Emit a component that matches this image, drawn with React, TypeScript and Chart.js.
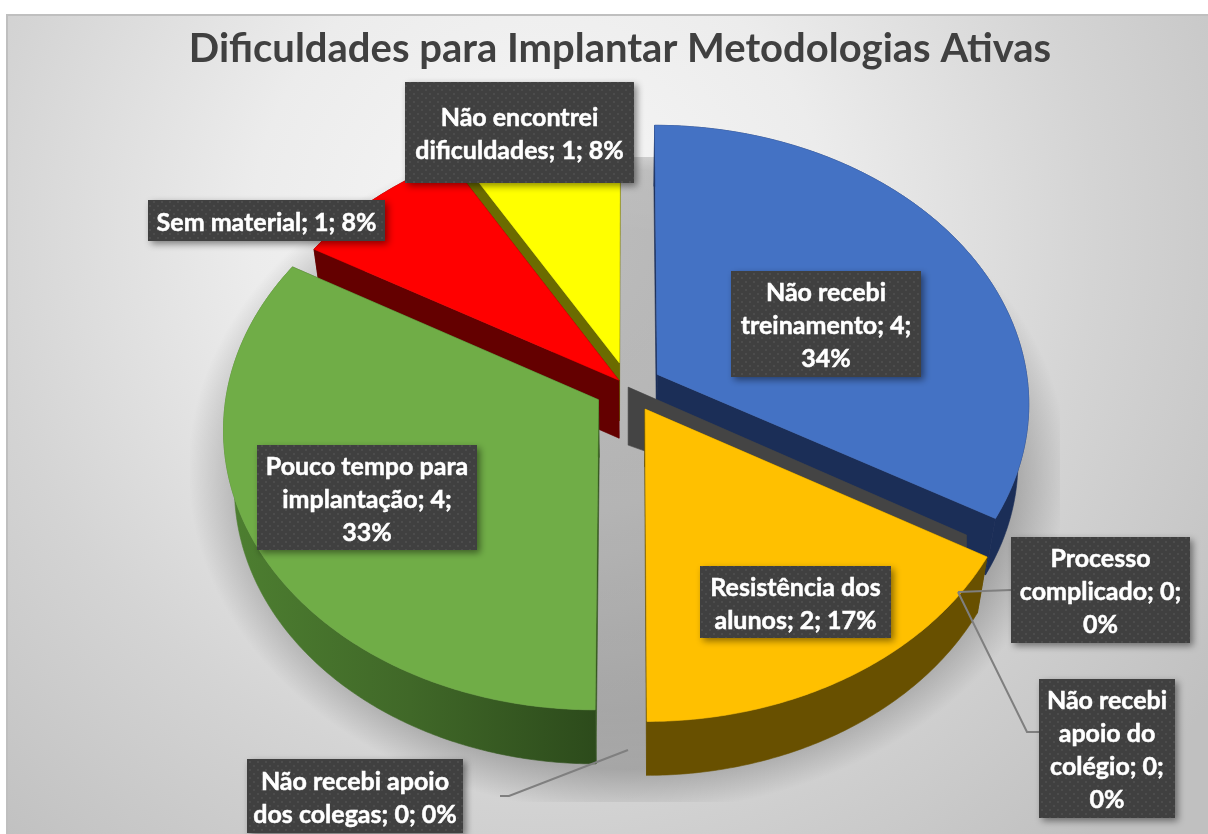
import React, { useEffect, useRef } from "react";
import { Chart, registerables } from "chart.js";

Chart.register(...registerables);

const titleText = "Dificuldades para Implantar Metodologias Ativas";
const categories = [
  "Não recebi treinamento",
  "Resistência dos alunos",
  "Processo complicado",
  "Não recebi apoio do colégio",
  "Pouco tempo para implantação",
  "Sem material",
  "Não encontrei dificuldades",
];
const counts = [4, 2, 0, 0, 4, 1, 1];
const topColors = ["#4472C4", "#FFC000", "#A5A5A5", "#5B9BD5", "#70AD47", "#FF0000", "#FFFF00"];
const wallColors = ["#1B2E57", "#685000", "#444444", "#25405C", "#34561F", "#640000", "#6B6B00"];
const explode = [34, 34, 0, 0, 34, 13, 34];
const labelLines = [
  ["Não recebi", "treinamento; 4;", "34%"],
  ["Resistência dos", "alunos; 2; 17%"],
  ["Processo", "complicado; 0;", "0%"],
  ["Não recebi", "apoio do", "colégio; 0;", "0%"],
  ["Pouco tempo para", "implantação; 4;", "33%"],
  ["Sem material; 1; 8%"],
  ["Não encontrei", "dificuldades; 1; 8%"],
];
// label boxes: x0, y0, x1, y1
const labelBoxes = [
  [731, 271, 921, 377],
  [700, 566, 891, 638],
  [1011, 537, 1190, 643],
  [1039, 679, 1175, 818],
  [257, 445, 477, 550],
  [148, 200, 385, 241],
  [405, 82, 634, 183],
];
const leaders = [
  [[1011, 590], [958, 592]],
  [[1039, 732], [1027, 732], [958, 592]],
  [[500, 796], [509, 796], [628, 750]],
];
const leaderLabel = ["Não recebi apoio", "dos colegas; 0; 0%"];
const leaderBox = [247, 759, 463, 833];

const PIE_RADIUS = 371;
const SQUASH = 0.745;
const PERSPECTIVE = 0.1;
const DX = 8;
const DY = 0;

type Pt = [number, number];

function project(el: any, u: number, v: number): Pt {
  const f = 1 / (1 - (PERSPECTIVE * v) / el.outerRadius);
  return [el.x + DX + u * f, el.y + DY + SQUASH * v * f];
}
function apexFlat(el: any): Pt {
  const mid = (el.startAngle + el.endAngle) / 2;
  return [Math.cos(mid) * el.options.offset, Math.sin(mid) * el.options.offset];
}
function rimPoint(el: any, a: number): Pt {
  const [ou, ov] = apexFlat(el);
  return project(el, ou + Math.cos(a) * el.outerRadius, ov + Math.sin(a) * el.outerRadius);
}
function toBottom(el: any, p: Pt): Pt {
  const cx = el.x + DX;
  return [cx + (p[0] - cx) * 0.973, p[1] + 58 - 0.012 * (p[1] - 382)];
}
function poly(ctx: CanvasRenderingContext2D, pts: Pt[], fill: any) {
  ctx.beginPath();
  pts.forEach((p, i) => (i ? ctx.lineTo(p[0], p[1]) : ctx.moveTo(p[0], p[1])));
  ctx.closePath();
  ctx.fillStyle = fill;
  ctx.fill();
  ctx.strokeStyle = fill;
  ctx.lineWidth = 0.6;
  ctx.stroke();
}
function rim(el: any): Pt[] {
  const pts: Pt[] = [];
  const n = Math.max(2, Math.ceil((el.endAngle - el.startAngle) / 0.01));
  for (let i = 0; i <= n; i++) pts.push(rimPoint(el, el.startAngle + ((el.endAngle - el.startAngle) * i) / n));
  return pts;
}

function makePattern(ctx: CanvasRenderingContext2D) {
  const c = document.createElement("canvas");
  c.width = 8;
  c.height = 8;
  const p = c.getContext("2d")!;
  p.fillStyle = "#404040";
  p.fillRect(0, 0, 8, 8);
  p.fillStyle = "#4c4c4c";
  p.fillRect(1, 1, 2, 2);
  p.fillRect(5, 5, 2, 2);
  return ctx.createPattern(c, "repeat")!;
}

function drawBox(ctx: CanvasRenderingContext2D, box: number[], lines: string[], pattern: CanvasPattern) {
  const [x0, y0, x1, y1] = box;
  ctx.save();
  ctx.shadowColor = "rgba(0,0,0,0.45)";
  ctx.shadowBlur = 7;
  ctx.shadowOffsetX = 3;
  ctx.shadowOffsetY = 3;
  ctx.fillStyle = pattern;
  ctx.fillRect(x0, y0, x1 - x0, y1 - y0);
  ctx.restore();
  ctx.save();
  ctx.font = "bold 25px Lato";
  ctx.fillStyle = "#FFFFFF";
  ctx.strokeStyle = "#FFFFFF";
  ctx.lineWidth = 0.5;
  ctx.textAlign = "center";
  ctx.textBaseline = "middle";
  const lh = 33;
  const cy = (y0 + y1) / 2 + 2;
  lines.forEach((t, i) => {
    const y = cy + (i - (lines.length - 1) / 2) * lh;
    ctx.fillText(t, (x0 + x1) / 2, y);
    ctx.strokeText(t, (x0 + x1) / 2, y);
  });
  ctx.restore();
}

const background = {
  id: "background3d",
  beforeDraw(chart: any) {
    const { ctx, width, height } = chart;
    ctx.save();
    ctx.fillStyle = "#FFFFFF";
    ctx.fillRect(0, 0, width, height);
    const g = ctx.createRadialGradient(540, 230, 60, 540, 230, 820);
    g.addColorStop(0, "#F5F5F5");
    g.addColorStop(0.3, "#ECECEC");
    g.addColorStop(0.65, "#D4D4D4");
    g.addColorStop(1, "#C0C0C0");
    ctx.fillStyle = g;
    ctx.fillRect(7, 15, width - 7, height - 15);
    ctx.fillStyle = "#BFBFBF";
    ctx.fillRect(6, 14, width - 6, 2);
    ctx.fillRect(6, 14, 2, height - 14);
    // soft shadow cast under the pie
    ctx.beginPath();
    ctx.rect(190, 157, 870, 645);
    ctx.clip();
    ctx.translate(628, 470);
    ctx.scale(1, 0.78);
    const s = ctx.createRadialGradient(0, 0, 300, 0, 0, 440);
    s.addColorStop(0, "rgba(0,0,0,0.24)");
    s.addColorStop(0.6, "rgba(0,0,0,0.22)");
    s.addColorStop(1, "rgba(0,0,0,0)");
    ctx.fillStyle = s;
    ctx.beginPath();
    ctx.arc(0, 0, 440, 0, Math.PI * 2);
    ctx.fill();
    ctx.restore();
  },
};

const pie3d = {
  id: "pie3d",
  beforeDatasetsDraw(chart: any) {
    const { ctx } = chart;
    const meta = chart.getDatasetMeta(0);
    const order = meta.data
      .map((el: any, i: number) => ({ el, i }))
      .filter((o: any) => o.el.endAngle - o.el.startAngle > 1e-4)
      .sort((a: any, b: any) => {
        const pa = project(a.el, ...apexFlat(a.el));
        const pb = project(b.el, ...apexFlat(b.el));
        return pa[1] - pb[1];
      });
    ctx.save();
    for (const { el, i } of order) {
      const apex = project(el, ...apexFlat(el));
      const apexB = toBottom(el, apex);
      const top = rim(el);
      const bottom = top.map((p) => toBottom(el, p));
      if (i === 1) {
        // dark inner walls of the empty slices, seen behind the second slice
        const e = top[0];
        const t = 0.94;
        const inner: Pt = [apex[0] + (e[0] - apex[0]) * t, apex[1] + (e[1] - apex[1]) * t];
        poly(ctx, [
          [apex[0] - 17, apex[1] - 22],
          [inner[0], inner[1] - 13],
          inner,
          apex,
          [apex[0], apex[1] + 42],
          [apex[0] - 17, apex[1] + 36],
        ], "#444444");
      }
      const first = top[0];
      const last = top[top.length - 1];
      poly(ctx, [apex, first, bottom[0], apexB], wallColors[i]);
      poly(ctx, [apex, last, bottom[bottom.length - 1], apexB], wallColors[i]);
      let wallFill: any = wallColors[i];
      if (i === 4) {
        const g = ctx.createLinearGradient(220, 0, 600, 0);
        g.addColorStop(0, "#4E8031");
        g.addColorStop(0.5, "#406828");
        g.addColorStop(1, "#2C4A1B");
        wallFill = g;
      }
      poly(ctx, [...top, ...bottom.slice().reverse()], wallFill);
      poly(ctx, [apex, ...top], topColors[i]);
    }
    ctx.restore();
    return false;
  },
};

const labels3d = {
  id: "labels3d",
  afterDraw(chart: any) {
    const { ctx } = chart;
    const pattern = makePattern(ctx);
    ctx.save();
    ctx.strokeStyle = "#7F7F7F";
    ctx.lineWidth = 2;
    leaders.forEach((l) => {
      ctx.beginPath();
      l.forEach((p, i) => (i ? ctx.lineTo(p[0], p[1]) : ctx.moveTo(p[0], p[1])));
      ctx.stroke();
    });
    ctx.restore();
    labelLines.forEach((lines, i) => drawBox(ctx, labelBoxes[i], lines, pattern));
    drawBox(ctx, leaderBox, leaderLabel, pattern);
  },
};

export default function App() {
  const ref = useRef<HTMLCanvasElement>(null);
  useEffect(() => {
    const chart = new Chart(ref.current!, {
      type: "pie",
      data: {
        labels: categories,
        datasets: [
          {
            data: counts,
            backgroundColor: topColors,
            offset: explode,
            radius: PIE_RADIUS,
            borderWidth: 0,
          } as any,
        ],
      },
      options: {
        responsive: false,
        animation: false,
        layout: { padding: { left: 32, bottom: 138 } },
        plugins: {
          legend: { display: false },
          tooltip: { enabled: false },
          title: {
            display: true,
            text: titleText,
            color: "#404040",
            font: { family: "Lato", weight: "bold", size: 40 },
            padding: { top: 25, bottom: 5 },
          },
        },
      },
      plugins: [background, pie3d, labels3d],
    });
    return () => chart.destroy();
  }, []);
  return (
    <div style={{ position: "fixed", left: 0, top: 0, width: 1208, height: 834 }}>
      <canvas ref={ref} width={1208} height={834} style={{ display: "block" }} />
    </div>
  );
}
